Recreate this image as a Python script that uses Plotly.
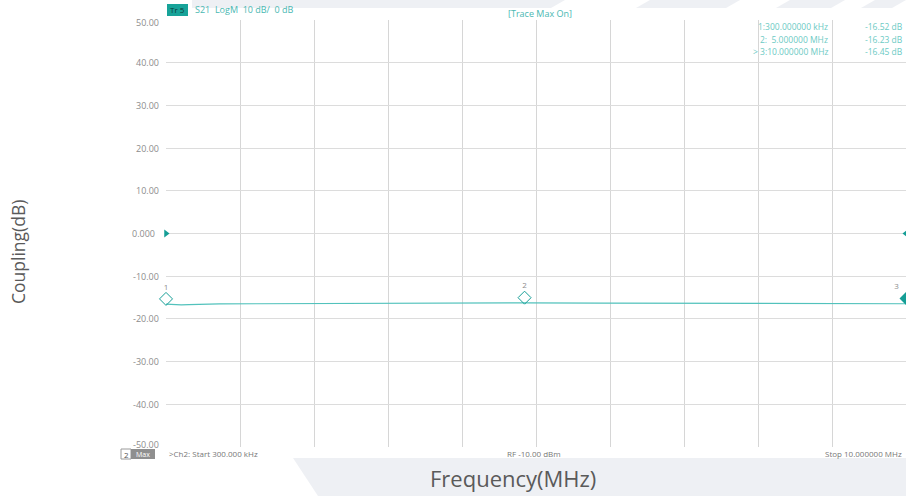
import plotly.graph_objects as go

# ---- data ----
freq_mhz = [0.3, 0.4, 0.5, 0.6, 0.8, 1.0, 1.5, 2.0, 3.0, 4.0, 5.0, 6.0, 7.0, 8.0, 9.0, 10.0]
s21_db = [-16.52, -16.62, -16.70, -16.64, -16.55, -16.50, -16.45, -16.40, -16.35, -16.30,
          -16.23, -16.30, -16.38, -16.40, -16.43, -16.45]

marker_ids = ["1", "2", "3"]
marker_freq = [0.3, 5.0, 10.0]
marker_db = [-16.52, -16.23, -16.45]
marker_rows = ["1:300.000000 kHz", "2:  5.000000 MHz", "> 3:10.000000 MHz"]
marker_vals = ["-16.52 dB", "-16.23 dB", "-16.45 dB"]

y_ticks = [50, 40, 30, 20, 10, 0, -10, -20, -30, -40, -50]
y_ticktext = ["50.00", "40.00", "30.00", "20.00", "10.00", "0.000",
              "-10.00", "-20.00", "-30.00", "-40.00", "-50.00"]
f_start, f_stop = 0.3, 10.0
x_grid = [f_start + k * (f_stop - f_start) / 10 for k in range(11)]

TEAL = "#52c2bc"
TEAL_D = "#159e96"
TEXT_T = "#49b8b2"
GRAY_T = "#8c8c8c"

W, H = 906, 496
L, R, T, B = 166, 0, 20, 49
PW, PH = W - L - R, H - T - B


def px(x):
    return (x - L) / PW


def py(y):
    return (H - B - y) / PH


fig = go.Figure()
fig.add_trace(go.Scatter(x=freq_mhz, y=s21_db, mode="lines",
                         line=dict(color=TEAL, width=1.2), hoverinfo="skip",
                         showlegend=False))
# markers (symbols drawn just above the trace point, as on the analyser)
mk_y = [v + 1.2 for v in marker_db]
fig.add_trace(go.Scatter(x=marker_freq[:2], y=mk_y[:2], mode="markers+text",
                         text=marker_ids[:2], textposition="top center",
                         textfont=dict(size=8, color=GRAY_T),
                         marker=dict(symbol="diamond-open", size=10, color=TEAL_D,
                                     line=dict(width=1, color=TEAL_D)),
                         cliponaxis=False, showlegend=False))
fig.add_trace(go.Scatter(x=marker_freq[2:], y=mk_y[2:], mode="markers+text",
                         text=marker_ids[2:], textposition="top left",
                         textfont=dict(size=8, color=GRAY_T),
                         marker=dict(symbol="diamond", size=10, color=TEAL_D),
                         cliponaxis=False, showlegend=False))
# reference level arrows
fig.add_trace(go.Scatter(x=[f_start], y=[0], mode="markers",
                         marker=dict(symbol="triangle-right", size=7, color=TEAL_D),
                         cliponaxis=False, showlegend=False))
fig.add_trace(go.Scatter(x=[f_stop], y=[0], mode="markers",
                         marker=dict(symbol="triangle-left", size=7, color=TEAL_D),
                         cliponaxis=False, showlegend=False))

fig.update_xaxes(range=[f_start, f_stop], tickvals=x_grid, showticklabels=False,
                 showgrid=True, gridcolor="#d6d6d6", gridwidth=1, zeroline=False,
                 ticks="", showline=False)
fig.update_yaxes(range=[-50, 50], tickvals=y_ticks, showticklabels=False,
                 showgrid=True, gridcolor="#dcdcdc", gridwidth=1, zeroline=False,
                 ticks="", showline=False)

shapes = []
BG = "#eef0f4"
# decorative background (bottom band)
shapes.append(dict(type="path", xref="paper", yref="paper",
                   path=f"M {px(293)} {py(458)} L {px(906)} {py(458)} L {px(906)} {py(496)} L {px(318)} {py(496)} Z",
                   fillcolor=BG, line=dict(width=0), layer="below"))
# decorative background (top band with slanted gaps)
top_segments = [(192, 565), (650, 740), (790, 845), (875, 906)]
for a, b in top_segments:
    shapes.append(dict(type="path", xref="paper", yref="paper",
                       path=f"M {px(a)} {py(0)} L {px(b)} {py(0)} L {px(b-14)} {py(8)} L {px(a-14 if a>192 else a)} {py(8)} Z",
                       fillcolor=BG, line=dict(width=0), layer="below"))
# Tr 5 box
shapes.append(dict(type="rect", xref="paper", yref="paper",
                   x0=px(167), x1=px(188), y0=py(16), y1=py(4),
                   fillcolor="#17a399", line=dict(width=0)))
# "2 Max" boxes
shapes.append(dict(type="rect", xref="paper", yref="paper",
                   x0=px(121), x1=px(131), y0=py(459), y1=py(449),
                   fillcolor="white", line=dict(width=1, color="#9a9a9a")))
shapes.append(dict(type="rect", xref="paper", yref="paper",
                   x0=px(131), x1=px(155), y0=py(459), y1=py(449),
                   fillcolor="#8f8f8f", line=dict(width=0)))

ann = []
def txt(x, y, s, size=9, color=TEXT_T, xanchor="left", angle=0, family="Open Sans"):
    ann.append(dict(xref="paper", yref="paper", x=px(x), y=py(y), text=s,
                    showarrow=False, xanchor=xanchor, yanchor="middle",
                    textangle=angle,
                    font=dict(family=family, size=size, color=color)))

# y tick labels (as on the analyser: end labels nudged inside the grid)
for v, s in zip(y_ticks, y_ticktext):
    shift = -2 if v == max(y_ticks) else (3 if v == min(y_ticks) else 0)
    ann.append(dict(xref="paper", yref="y", x=px(161 if v != 0 else 157), y=v, text=s,
                    showarrow=False, xanchor="right", yanchor="middle", yshift=shift,
                    font=dict(family="Open Sans", size=9, color=GRAY_T)))

txt(168, 10, "Tr 5", size=8, color="#0d3b38")
txt(193, 10, "S21  LogM  10 dB/  0 dB", size=9)
txt(540, 14, "[Trace Max On]", size=9, xanchor="center")
for i, (r, v) in enumerate(zip(marker_rows, marker_vals)):
    yy = 26 + i * 13
    txt(830, yy, r, size=8.5, color="#6ccac4", xanchor="right")
    txt(905, yy, v, size=8.5, color="#6ccac4", xanchor="right")
txt(126, 454, "2", size=8, color="#555555", xanchor="center")
txt(143, 454, "Max", size=7, color="white", xanchor="center")
txt(167, 453, ">Ch2: Start 300.000 kHz", size=8, color="#777777")
txt(505, 453, "RF -10.00 dBm", size=8, color="#777777")
txt(904, 453, "Stop 10.000000 MHz", size=8, color="#777777", xanchor="right")
txt(513, 478, "Frequency(MHz)", size=22, color="#5a5a5a", xanchor="center")
txt(18, 252, "Coupling(dB)", size=17.5, color="#5a5a5a", xanchor="center", angle=-90)

fig.update_layout(width=W, height=H, margin=dict(l=L, r=R, t=T, b=B),
                  paper_bgcolor="white", plot_bgcolor="white",
                  shapes=shapes, annotations=ann, showlegend=False,
                  font=dict(family="Open Sans"))
fig.write_html("out.html", config={"displayModeBar": False},
               post_script="document.body.style.margin='0';document.body.style.overflow='hidden';")
